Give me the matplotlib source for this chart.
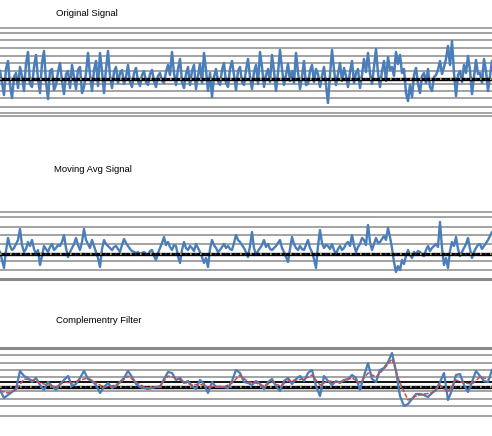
import numpy as np
import matplotlib
matplotlib.use('Agg')
import matplotlib.pyplot as plt

# values, units = grid units above the zero line
orig = [8, -4, -16, 10, 18, -6, -19, 2, 6, -9, 12, 3, -12, 15, 27, -5, -8, 12, 24, 0,
        -14, 16, 28, -3, -20, 8, 10, -11, -6, 7, 16, -2, -15, 5, 8, -9, 14, 2, -10, 9,
        12, -14, -8, 6, 26, 4, -12, 9, 18, -7, 26, 8, -14, 10, 28, 3, -9, 7, 12, -4,
        6, 9, -5, 2, 14, -3, -8, 6, 11, -2, -7, 4, 8, -3, -6, 5, 9, -2, -8, 3,
        6, -2, -4, 7, 14, 4, 27, 6, -6, 10, 20, -3, -9, 5, 12, -6, 8, 14, -10, 3,
        15, -4, 26, 9, -12, 6, -18, 2, 10, -2, -6, 9, 16, -4, -8, 10, 18, 4, -11, 8,
        12, -3, -6, 9, 20, 2, -10, 7, 14, -5, 27, 12, -8, 4, 10, -3, 24, 8, -12, 6,
        29, 10, -6, 4, 15, -2, 8, -4, 26, 7, -10, 2, 18, -6, -5, 8, 14, -3, 10, 5,
        -8, 3, 12, -6, -24, 4, 29, 9, -6, 5, 16, -2, 11, 3, -8, 7, 18, -4, 6, 10,
        -9, 4, 20, 7, 26, 5, -5, 12, 30, 6, -8, 8, 18, -2, 22, 9, 12, 3, 27, 15,
        24, 6, 10, -14, -22, -6, -18, 4, 11, -5, -14, 3, 6, -4, 10, -8, -12, 2, 4, 9,
        18, 5, 12, 20, 33, 14, 38, 6, -17, 4, 8, -3, 14, 6, 23, 9, -15, 2, 19, 5,
        6, -4, 20, 8, -12, 3, 18]

mavg = [2, -6, -14, 3, 16, 8, 4, 6, 10, 14, 25, 9, 2, 5, 12, 8, 14, 5, 0, 4,
        -11, -2, 8, 5, 2, 7, 10, 4, 6, 9, 8, 12, 19, 6, -3, 2, 6, 10, 16, 9,
        4, 12, 25, 14, 10, 6, 14, 8, 2, -4, -13, 5, 14, 10, 8, 6, 4, 7, 8, 5,
        2, 9, 15, 11, 8, 5, 3, 2, 1, 2, 0, 1, 2, 0, -1, 3, 4, -2, -6, 1,
        6, 11, 17, 9, 12, 7, 4, 9, 8, -2, -9, 4, 12, 6, 4, 8, 6, 3, 10, 6,
        2, -3, -9, -4, -13, 5, 14, 9, 6, 2, 4, 7, 10, 6, 8, 5, 4, 11, 19, 14,
        12, 9, 6, 2, -3, 8, 22, 6, -1, 3, 6, 9, 14, 7, 10, 5, 4, 6, 8, 11,
        14, 6, 2, -3, -8, 5, 17, 10, 6, 4, 8, 5, 4, 9, 14, 6, 2, -5, -14, 8,
        24, 11, 6, 9, 8, 5, 10, 4, 0, 5, 8, 4, 6, 10, 12, 8, 19, 9, 2, 7,
        10, 16, 14, 9, 29, 12, 4, 10, 16, 11, 12, 15, 18, 14, 26, 17, 6, -8, -18, -12,
        -16, -6, -10, -2, 4, -1, -4, 2, 0, 3, 2, -1, -2, 4, 8, 3, 6, 8, 10, 7,
        32, 6, -11, -4, -14, 3, 12, 8, 17, 5, -2, 2, 6, 10, 16, 5, -4, 2, 6, 9,
        10, 5, 8, 11, 14, 18, 22]

comp = [-3, -11, -8, -5, -2, 16, 11, 9, 5, 9, 2, -3, 5, 1, -3, 3, 7, 11, 1, 3,
        9, 16, 8, 6, 2, -6, 0, 4, -1, 1, 5, 9, 16, 10, 3, 0, -1, -2, -1, 0,
        0, 8, 15, 14, 7, 9, 4, 6, 1, -2, 7, 3, -6, 5, 0, 0, 0, -1, 6, 17,
        14, 5, 4, 2, 6, 3, -2, 5, 8, 1, -4, 6, 9, 3, 8, 11, 6, 14, 17, 1,
        -9, 11, 6, 2, 6, 4, 7, 8, 12, 9, -3, 11, 24, 8, 5, 17, 19, 25, 34, 16,
        -9, -19, -17, -12, -7, -7, -8, -10, -6, -3, 5, 14, -13, -3, 12, 13, 2, -5, 5, 16,
        11, 6, 5, 17]

comp_smooth = [-4, -6, -3, 8, 7, 4, 2, 0, 5, 4, 7, 9, 4, 0, 1, 4, 11, 5, 0, -1,
               1, 11, 9, 5, 2, 3, 0, 1, 0, 4, 12, 5, 4, 1, 5, 1, 6, 7, 8, 12,
               2, 6, 5, 6, 9, 4, 14, 10, 18, 28, 4, -13, -9, -7, -6, 2, -5, 7, 4, 3,
               10, 8]

grid1 = [51, 46, 39, 31, 23, 16, 8, -5, -12, -19, -28, -34, -37]
grid2 = [42, 37, 27, 19, 10, -7, -16]
grid2_heavy = [-25]
grid3 = [32, 24, 17, 10, -4, -12, -19, -29]
grid3_heavy = [39]
comp_ref = 5

titles = ['Original Signal', 'Moving Avg Signal', 'Complementry Filter']

W, H = 492, 436
fig = plt.figure(figsize=(W / 100, H / 100), dpi=100)
fig.patch.set_facecolor('white')

blue = '#4a7ebb'
gray = '#8a8a8a'


def make_ax(top_px, bot_px, ylo, yhi, n):
    ax = fig.add_axes([0, 1 - bot_px / H, 1, (bot_px - top_px) / H])
    ax.set_xlim(0, n - 1)
    ax.set_ylim(ylo, yhi)
    ax.axis('off')
    return ax


def baseline(ax):
    ax.axhline(0, color='black', lw=2.4, zorder=5)
    ax.axhline(0, color='#c8b848', lw=1.2, ls=(0, (1, 5)), zorder=6)
    ax.axhline(0, color='#20308a', lw=1.2, ls=(3, (1, 5)), zorder=6)


ax1 = make_ax(20, 122, -43, 59, len(orig))
for g in grid1:
    ax1.axhline(g, color=gray, lw=1.1, zorder=1)
ax1.plot(np.arange(len(orig)), orig, color=blue, lw=1.8, zorder=3)
baseline(ax1)

ax2 = make_ax(200, 285, -31, 54, len(mavg))
for g in grid2:
    ax2.axhline(g, color=gray, lw=1.1, zorder=1)
for g in grid2_heavy:
    ax2.axhline(g, color=gray, lw=2.2, zorder=1)
ax2.plot(np.arange(len(mavg)), mavg, color=blue, lw=1.7, zorder=3)
baseline(ax2)

ax3 = make_ax(340, 430, -43, 47, len(comp))
for g in grid3:
    ax3.axhline(g, color=gray, lw=1.1, zorder=1)
for g in grid3_heavy:
    ax3.axhline(g, color=gray, lw=2.2, zorder=1)
baseline(ax3)
ax3.axhline(comp_ref, color='black', lw=1.3, zorder=4)
ax3.plot(np.arange(len(comp)), comp, color=blue, lw=1.6, zorder=7)
ax3.plot(np.arange(len(comp_smooth)) * 2, comp_smooth, color='#c0504d', lw=1.1,
         ls=(0, (3, 1)), zorder=8)

for t, (cx, cy) in zip(titles, [(87, 14), (93, 170), (99, 320)]):
    fig.text(cx / W, 1 - cy / H, t, ha='center', va='center', fontsize=6.8,
             family='Liberation Sans', color='black')

fig.savefig('out.png', dpi=100, facecolor='white')
